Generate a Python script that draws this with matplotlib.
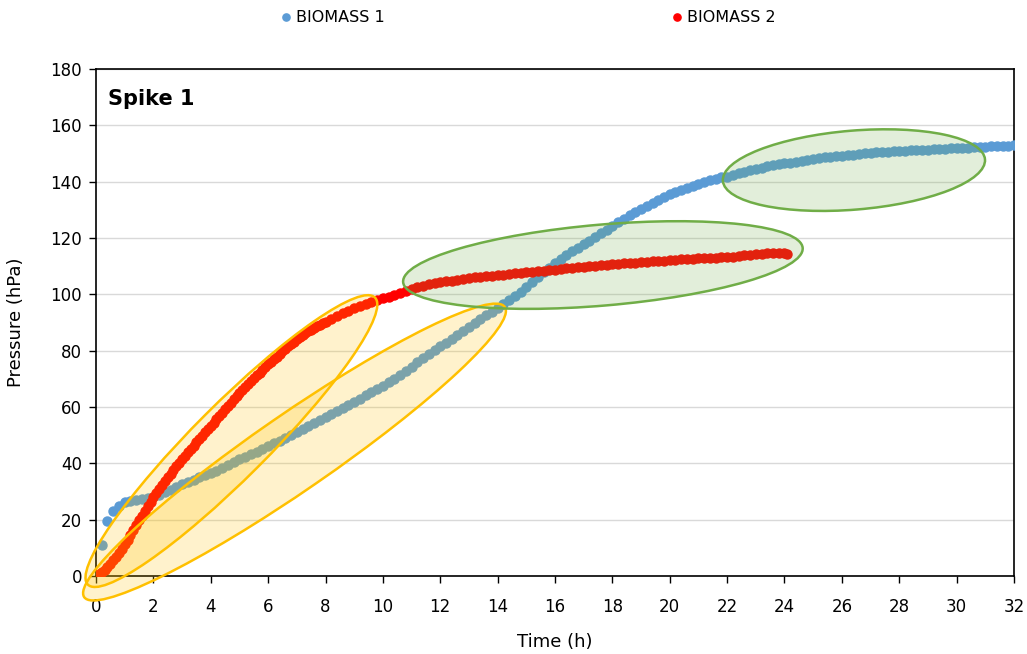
import matplotlib
matplotlib.use("Agg")
import matplotlib.pyplot as plt
from matplotlib.patches import Ellipse
from matplotlib.transforms import ScaledTranslation

plt.rcParams['font.family'] = ['DejaVu Sans']

# time (h) and pressure (hPa)
t1 = [0.0, 0.2, 0.4, 0.6, 0.8, 1.0, 1.2, 1.4, 1.6, 1.8, 2.0, 2.2, 2.4, 2.6, 2.8, 3.0, 3.2, 3.4, 3.6, 3.8,
      4.0, 4.2, 4.4, 4.6, 4.8, 5.0, 5.2, 5.4, 5.6, 5.8, 6.0, 6.2, 6.4, 6.6, 6.8, 7.0, 7.2, 7.4, 7.6, 7.8,
      8.0, 8.2, 8.4, 8.6, 8.8, 9.0, 9.2, 9.4, 9.6, 9.8, 10.0, 10.2, 10.4, 10.6, 10.8, 11.0, 11.2, 11.4, 11.6, 11.8,
      12.0, 12.2, 12.4, 12.6, 12.8, 13.0, 13.2, 13.4, 13.6, 13.8, 14.0, 14.2, 14.4, 14.6, 14.8, 15.0, 15.2, 15.4, 15.6, 15.8,
      16.0, 16.2, 16.4, 16.6, 16.8, 17.0, 17.2, 17.4, 17.6, 17.8, 18.0, 18.2, 18.4, 18.6, 18.8, 19.0, 19.2, 19.4, 19.6, 19.8,
      20.0, 20.2, 20.4, 20.6, 20.8, 21.0, 21.2, 21.4, 21.6, 21.8, 22.0, 22.2, 22.4, 22.6, 22.8, 23.0, 23.2, 23.4, 23.6, 23.8,
      24.0, 24.2, 24.4, 24.6, 24.8, 25.0, 25.2, 25.4, 25.6, 25.8, 26.0, 26.2, 26.4, 26.6, 26.8, 27.0, 27.2, 27.4, 27.6, 27.8,
      28.0, 28.2, 28.4, 28.6, 28.8, 29.0, 29.2, 29.4, 29.6, 29.8, 30.0, 30.2, 30.4, 30.6, 30.8, 31.0, 31.2, 31.4, 31.6, 31.8, 32.0]
p1 = [0, 11, 19.5, 23, 25, 26.2, 26.8, 27.1, 27.3, 27.6, 28.1, 28.9, 29.7, 30.6, 31.6, 32.5, 33.3, 34.1, 35.0, 35.8,
      36.6, 37.4, 38.2, 39.4, 40.6, 41.5, 42.4, 43.3, 44.2, 45.2, 46.1, 47.1, 48.1, 49.1, 50.1, 51.2, 52.2, 53.2, 54.2, 55.3,
      56.3, 57.4, 58.5, 59.7, 60.8, 61.9, 63.0, 64.1, 65.2, 66.4, 67.6, 68.8, 70.1, 71.4, 72.8, 74.3, 75.8, 77.4, 78.8, 80.2,
      81.5, 82.8, 84.2, 85.6, 87.0, 88.5, 89.9, 91.3, 92.6, 93.9, 95.2, 96.5, 97.9, 99.3, 100.9, 102.6, 104.4, 106.1, 107.8, 109.5,
      111.0, 112.5, 114.0, 115.3, 116.5, 117.7, 119.0, 120.4, 121.7, 123.0, 124.3, 125.6, 126.8, 128.0, 129.2, 130.3, 131.4, 132.5, 133.6, 134.6,
      135.5, 136.3, 137.0, 137.7, 138.4, 139.2, 139.9, 140.6, 141.1, 141.5, 141.8, 142.3, 142.9, 143.5, 144.0, 144.5, 145.0, 145.4, 145.8, 146.2,
      146.5, 146.8, 147.1, 147.4, 147.7, 148.1, 148.4, 148.6, 148.8, 149.0, 149.2, 149.4, 149.6, 149.8, 150.0, 150.2, 150.4, 150.6, 150.7, 150.8,
      150.9, 151.0, 151.1, 151.2, 151.3, 151.4, 151.5, 151.6, 151.7, 151.8, 151.9, 152.0, 152.1, 152.2, 152.3, 152.4, 152.5, 152.6, 152.7, 152.8, 152.9]

# BIOMASS 2 is read every 0.1 h on the steep start, every 0.2 h afterwards
t2 = [0.0, 0.1, 0.2, 0.3, 0.4, 0.5, 0.6, 0.7, 0.8, 0.9, 1.0, 1.1, 1.2, 1.3, 1.4, 1.5, 1.6, 1.7, 1.8, 1.9,
      2.0, 2.1, 2.2, 2.3, 2.4, 2.5, 2.6, 2.7, 2.8, 2.9, 3.0, 3.1, 3.2, 3.3, 3.4, 3.5, 3.6, 3.7, 3.8, 3.9,
      4.0, 4.1, 4.2, 4.3, 4.4, 4.5, 4.6, 4.7, 4.8, 4.9, 5.0, 5.1, 5.2, 5.3, 5.4, 5.5, 5.6, 5.7, 5.8, 5.9,
      6.0, 6.1, 6.2, 6.3, 6.4, 6.5, 6.6, 6.7, 6.8, 6.9, 7.0, 7.1, 7.2, 7.3, 7.4, 7.5, 7.6, 7.7, 7.8, 7.9,
      8.0, 8.2, 8.4, 8.6, 8.8, 9.0, 9.2, 9.4, 9.6, 9.8, 10.0, 10.2, 10.4, 10.6, 10.8, 11.0, 11.2, 11.4, 11.6, 11.8,
      12.0, 12.2, 12.4, 12.6, 12.8, 13.0, 13.2, 13.4, 13.6, 13.8, 14.0, 14.2, 14.4, 14.6, 14.8, 15.0, 15.2, 15.4, 15.6, 15.8,
      16.0, 16.2, 16.4, 16.6, 16.8, 17.0, 17.2, 17.4, 17.6, 17.8, 18.0, 18.2, 18.4, 18.6, 18.8, 19.0, 19.2, 19.4, 19.6, 19.8,
      20.0, 20.2, 20.4, 20.6, 20.8, 21.0, 21.2, 21.4, 21.6, 21.8, 22.0, 22.2, 22.4, 22.6, 22.8, 23.0, 23.2, 23.4, 23.6, 23.8,
      24.0, 24.1]
p2 = [0.3, 0.8, 1.5, 2.3, 3.2, 4.3, 5.6, 6.9, 8.3, 9.7, 11.2, 12.9, 14.6, 16.3, 18.1, 19.8, 21.4, 23.1, 24.8, 26.4,
      28.0, 29.5, 31.0, 32.4, 33.7, 35.0, 36.3, 37.6, 38.9, 40.2, 41.5, 42.7, 43.9, 45.0, 46.2, 47.4, 48.6, 49.8, 51.0, 52.2,
      53.3, 54.4, 55.6, 56.8, 58.0, 59.2, 60.4, 61.5, 62.7, 63.9, 65.0, 66.1, 67.2, 68.2, 69.3, 70.3, 71.3, 72.2, 73.2, 74.1,
      75.1, 76.0, 77.0, 77.9, 78.9, 79.8, 80.7, 81.5, 82.4, 83.2, 84.0, 84.8, 85.5, 86.2, 86.9, 87.5, 88.1, 88.6, 89.2, 89.7,
      90.2, 91.2, 92.2, 93.2, 94.2, 95.1, 95.9, 96.7, 97.3, 97.9, 98.6, 99.2, 99.8, 100.4, 101.1, 101.9, 102.5, 103.0, 103.5, 103.9,
      104.3, 104.6, 104.9, 105.2, 105.5, 105.8, 106.0, 106.2, 106.4, 106.6, 106.8, 107.0, 107.2, 107.4, 107.6, 107.8, 108.0, 108.2, 108.4, 108.6,
      108.8, 109.0, 109.2, 109.4, 109.6, 109.8, 110.0, 110.2, 110.4, 110.5, 110.7, 110.8, 111.0, 111.1, 111.3, 111.4, 111.5, 111.7, 111.8, 111.9,
      112.1, 112.2, 112.4, 112.5, 112.6, 112.8, 112.8, 112.9, 113.0, 113.1, 113.3, 113.4, 113.6, 113.8, 114.0, 114.2, 114.4, 114.5, 114.5, 114.6,
      114.6, 114.3]

xticks = list(range(0, 33, 2))
yticks = list(range(0, 181, 20))

# highlight ellipses: centre (h, hPa), width/height (in), angle (deg), colour
ellipses = [
    ((4.72, 47.9), 4.06, 0.74, 45.0, '#FFC000'),
    ((6.92, 44.0), 5.11, 0.76, 34.6, '#FFC000'),
    ((17.67, 110.4), 4.01, 0.81, 4.9, '#70AD47'),
    ((26.42, 144.1), 2.63, 0.79, 4.7, '#70AD47'),
]

fig = plt.figure(figsize=(10.27, 6.54), dpi=100)
ax = fig.add_axes([96/1027, 78/654, 918/1027, 507/654])

ax.plot(t1, p1, 'o', color='#5B9BD5', ms=6.5, mec='#5B9BD5', label='BIOMASS 1', zorder=3)
ax.plot(t2, p2, 'o', color='#FF0000', ms=6.5, mec='#FF0000', label='BIOMASS 2', zorder=3)

for (cx, cy), w, h, ang, col in ellipses:
    tr = fig.dpi_scale_trans + ScaledTranslation(cx, cy, ax.transData)
    e = Ellipse((0, 0), w, h, angle=ang, transform=tr, facecolor=col, alpha=0.2,
                edgecolor='none', zorder=4, clip_on=False)
    ax.add_patch(e)
    e2 = Ellipse((0, 0), w, h, angle=ang, transform=tr, facecolor='none',
                 edgecolor=col, lw=1.8, zorder=5, clip_on=False)
    ax.add_patch(e2)

ax.set_xlim(0, 32)
ax.set_ylim(0, 180)
ax.set_xticks(xticks)
ax.set_yticks(yticks)
ax.tick_params(direction='out', length=5, width=1, labelsize=12, colors='black')
ax.tick_params(axis='x', pad=11)
ax.tick_params(axis='y', pad=5)
ax.yaxis.grid(True, color='#D9D9D9', lw=1)
ax.set_axisbelow(True)
for s in ax.spines.values():
    s.set_color('black')
    s.set_linewidth(1.2)

ax.set_xlabel('Time (h)', fontsize=13, labelpad=12)
ax.set_ylabel('Pressure (hPa)', fontsize=13, labelpad=18)
ax.text(0.013, 0.941, 'Spike 1', transform=ax.transAxes, fontsize=15, fontweight='bold', va='center')

fig.legend(loc='center', bbox_to_anchor=(0.515, 0.973), ncol=2, frameon=False, fontsize=11.5,
           handlelength=0.5, handletextpad=0.4, columnspacing=18, markerscale=0.8)

fig.savefig('out.png', dpi=100)
